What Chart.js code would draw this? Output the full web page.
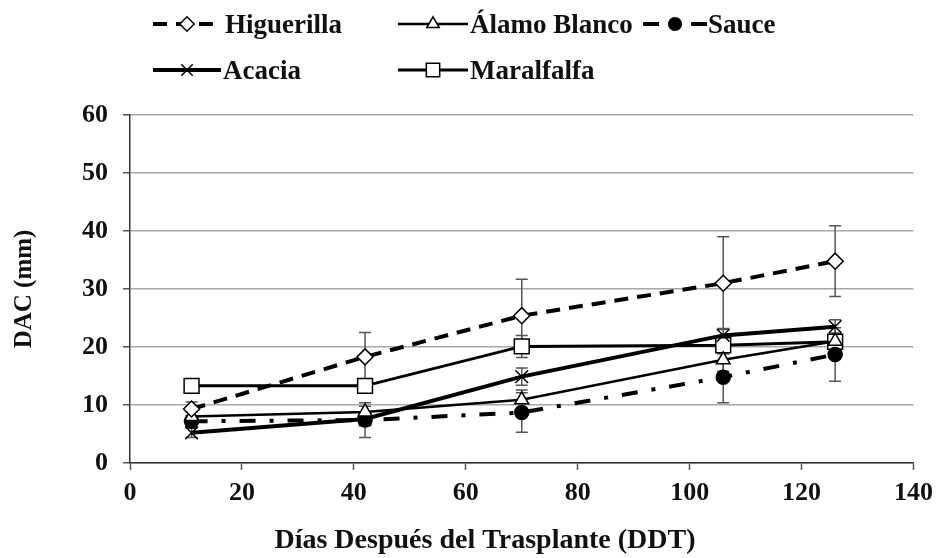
<!DOCTYPE html>
<html>
<head>
<meta charset="utf-8">
<script src="https://cdn.jsdelivr.net/npm/chart.js@4/dist/chart.umd.min.js"></script>
<style>
  html, body { margin: 0; padding: 0; background: #fff; }
  #wrap { width: 941px; height: 558px; }
</style>
</head>
<body>
<div id="wrap"><canvas id="dacChart" width="941" height="558"></canvas></div>
<script>
// Days after transplant (x values)
const days = [11, 42, 70, 106, 126];
const xTicks = [0, 20, 40, 60, 80, 100, 120, 140];
const yTicks = [0, 10, 20, 30, 40, 50, 60];

// DAC (mm) per species, with error bar half-lengths
const higuerilla = [9.3, 18.3, 25.4, 31.0, 34.8];
const higuerillaErr = [1.2, 4.2, 6.3, 8.0, 6.1];
const alamoBlanco = [8.0, 8.8, 10.9, 17.8, 21.0];
const alamoBlancoErr = [0.8, 1.0, 1.7, 2.0, 1.0];
const sauce = [7.2, 7.4, 8.7, 14.8, 18.7];
const sauceErr = [1.0, 3.0, 3.4, 4.4, 4.6];
const acacia = [5.2, 7.6, 14.9, 22.0, 23.5];
const acaciaErr = [0.8, 1.2, 1.5, 1.2, 1.2];
const maralfalfa = [13.3, 13.3, 20.1, 20.3, 20.9];
const maralfalfaErr = [0.5, 0.5, 1.9, 1.5, 1.5];

const xTitle = 'Días Después del Trasplante (DDT)';
const yTitle = 'DAC (mm)';

const FONT = "'Liberation Serif', 'Times New Roman', serif";
const pts = vals => vals.map((v, i) => ({ x: days[i], y: v }));

function series(label, vals, errs, style) {
  return Object.assign({
    label: label,
    data: pts(vals),
    errors: errs,
    borderColor: '#000',
    pointBorderColor: '#000',
    pointBorderWidth: 1.5,
    tension: 0,
    fill: false
  }, style);
}

const datasets = [
  series('Higuerilla', higuerilla, higuerillaErr, {
    borderWidth: 4, borderDash: [14, 9], pointStyle: 'rectRot', pointRadius: 8, pointBackgroundColor: '#fff'
  }),
  series('Álamo Blanco', alamoBlanco, alamoBlancoErr, {
    borderWidth: 2.5, pointStyle: 'triangle', pointRadius: 8, pointBackgroundColor: '#fff'
  }),
  series('Sauce', sauce, sauceErr, {
    borderWidth: 4, borderDash: [16, 14, 4, 14], pointStyle: 'circle', pointRadius: 7, pointBackgroundColor: '#000'
  }),
  series('Acacia', acacia, acaciaErr, {
    borderWidth: 4, pointStyle: 'crossRot', pointRadius: 9, pointBackgroundColor: '#000'
  }),
  series('Maralfalfa', maralfalfa, maralfalfaErr, {
    borderWidth: 3, pointStyle: 'rect', pointRadius: 10.5, pointBackgroundColor: '#fff'
  })
];

// error bars drawn under the lines/markers
const errorBars = {
  id: 'errorBars',
  beforeDatasetsDraw(chart) {
    const { ctx, scales: { x, y } } = chart;
    ctx.save();
    ctx.strokeStyle = '#555';
    ctx.lineWidth = 1.5;
    chart.data.datasets.forEach(ds => {
      ds.data.forEach((p, i) => {
        const e = ds.errors[i];
        const px = x.getPixelForValue(p.x);
        const top = y.getPixelForValue(p.y + e);
        const bot = y.getPixelForValue(p.y - e);
        ctx.beginPath();
        ctx.moveTo(px, top); ctx.lineTo(px, bot);
        ctx.moveTo(px - 6, top); ctx.lineTo(px + 6, top);
        ctx.moveTo(px - 6, bot); ctx.lineTo(px + 6, bot);
        ctx.stroke();
      });
    });
    ctx.restore();
  }
};

// legend laid out like the original: sample line + marker, then name
const legendSpots = [
  { x0: 153, x1: 221, text: 225, y: 24 },
  { x0: 398, x1: 468, text: 470, y: 24 },
  { x0: 643, x1: 707, text: 708, y: 24 },
  { x0: 153, x1: 221, text: 223, y: 70 },
  { x0: 398, x1: 468, text: 470, y: 70 }
];

const boxLegend = {
  id: 'boxLegend',
  afterDraw(chart) {
    const ctx = chart.ctx;
    ctx.save();
    chart.data.datasets.forEach((ds, i) => {
      const s = legendSpots[i];
      ctx.beginPath();
      ctx.setLineDash(ds.borderDash || []);
      ctx.lineWidth = ds.borderWidth;
      ctx.strokeStyle = '#000';
      ctx.moveTo(s.x0, s.y); ctx.lineTo(s.x1, s.y);
      ctx.stroke();
      ctx.setLineDash([]);
      ctx.fillStyle = ds.pointBackgroundColor;
      ctx.strokeStyle = '#000';
      ctx.lineWidth = ds.pointBorderWidth;
      Chart.helpers.drawPoint(ctx, {
        pointStyle: ds.pointStyle, radius: ds.pointRadius * 0.9, rotation: 0, borderWidth: ds.pointBorderWidth
      }, (s.x0 + s.x1) / 2, s.y);
      ctx.fillStyle = '#111';
      ctx.font = 'bold 27px ' + FONT;
      ctx.textBaseline = 'alphabetic';
      ctx.textAlign = 'left';
      ctx.fillText(ds.label, s.text, s.y + 9);
    });
    // x axis title sits a little left of the plot centre in the original
    ctx.font = 'bold 28px ' + FONT;
    ctx.textAlign = 'center';
    ctx.fillText(xTitle, 485, 548);
    ctx.restore();
  }
};

new Chart(document.getElementById('dacChart').getContext('2d'), {
  type: 'line',
  data: { datasets: datasets },
  plugins: [errorBars, boxLegend],
  options: {
    responsive: false,
    animation: false,
    devicePixelRatio: 1,
    layout: { padding: { top: 115, right: 27, left: 0, bottom: 0 } },
    plugins: { legend: { display: false }, tooltip: { enabled: false } },
    scales: {
      x: {
        type: 'linear', min: 0, max: 140,
        afterBuildTicks: s => { s.ticks = xTicks.map(v => ({ value: v })); },
        afterFit: s => { s.height = 95; },
        ticks: { color: '#111', padding: 8, font: { family: FONT, size: 26, weight: 'bold' } },
        grid: { drawOnChartArea: false, tickLength: 7, tickColor: '#555', tickWidth: 1.5 },
        border: { color: '#333', width: 1.5 }
      },
      y: {
        min: 0, max: 60,
        afterBuildTicks: s => { s.ticks = yTicks.map(v => ({ value: v })); },
        afterFit: s => { s.width = 130; },
        ticks: { color: '#111', padding: 15, font: { family: FONT, size: 26, weight: 'bold' } },
        grid: { color: '#a8a8a8', lineWidth: 1.5, tickLength: 7, tickColor: '#555', tickWidth: 1.5 },
        border: { color: '#333', width: 1.5 },
        title: {
          display: true, text: yTitle, color: '#111',
          font: { family: FONT, size: 25, weight: 'bold' }, padding: { top: 10, bottom: 0 }
        }
      }
    }
  }
});
</script>
</body>
</html>
